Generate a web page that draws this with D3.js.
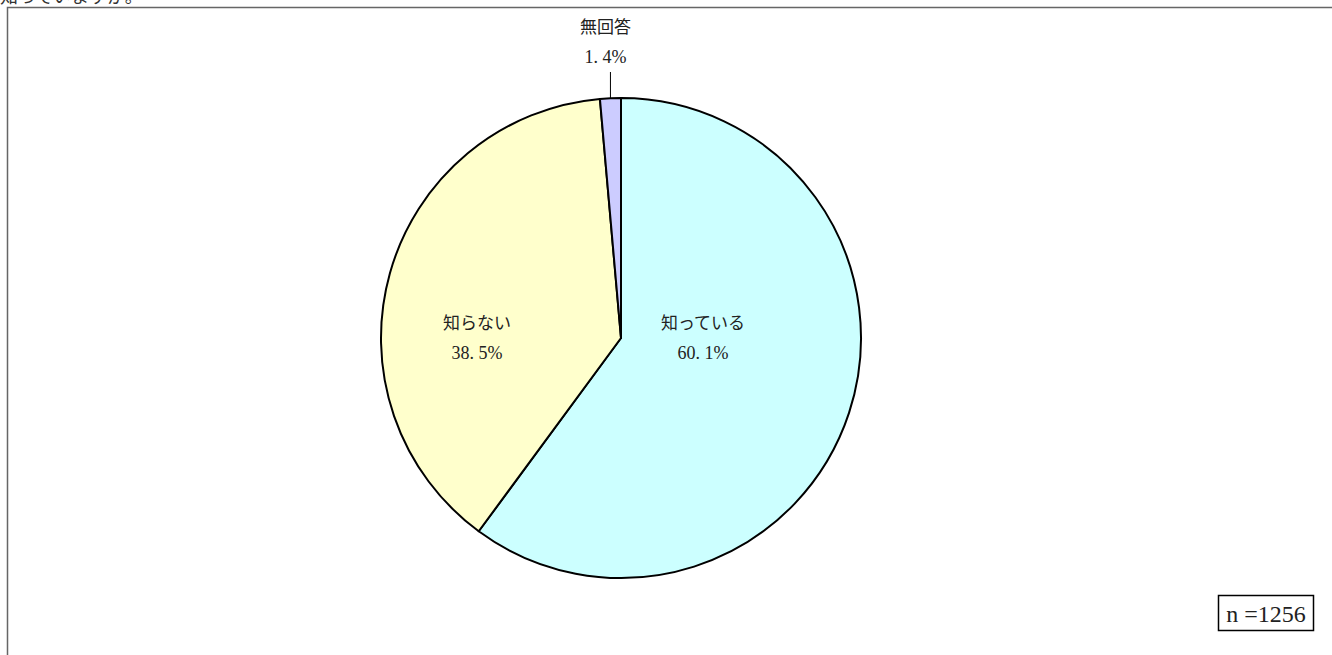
<!DOCTYPE html>
<html><head><meta charset="utf-8">
<script src="https://cdn.jsdelivr.net/npm/d3@7"></script>
<style>body{margin:0;background:#fff}svg{display:block}</style>
</head><body>
<svg id="c" width="1332" height="655"></svg>
<script>
const categories = ["知っている", "知らない", "無回答"];
const values = [60.1, 38.5, 1.4];
const colors = ["#CCFFFF", "#FFFFCC", "#CCCCFF"];
const title = "知っていますか。";
const nLabel = "n =1256";

const svg = d3.select("#c");
const font = "'Noto Sans CJK JP', sans-serif";
const cx = 621, cy = 338, R = 240;

// partial title at top (cut off, as in the reference)
svg.append("text").attr("x", 0).attr("y", 3).attr("font-family", font)
  .attr("font-size", 18).attr("fill", "#333").text(title);

// frame
svg.append("path").attr("d", "M7.5,655 V7.5 H1332").attr("fill", "none")
  .attr("stroke", "#666").attr("stroke-width", 1.5);

const data = categories.map((c, i) => ({ c, v: values[i], col: colors[i] }));
const pie = d3.pie().value(d => d.v).sort(null);
const arcs = pie(data);
const arc = d3.arc().innerRadius(0).outerRadius(R);
const g = svg.append("g").attr("transform", `translate(${cx},${cy})`);
g.selectAll("path").data(arcs).join("path")
  .attr("d", arc).attr("fill", d => d.data.col)
  .attr("stroke", "#000").attr("stroke-width", 2).attr("stroke-linejoin", "round");

// labels
arcs.forEach((a, i) => {
  let x, y;
  if (i < 2) {
    x = i === 0 ? 82 : -144;
    y = -15;
  } else {
    const mid = (a.startAngle + a.endAngle) / 2;
    x = Math.sin(mid) * R - 5; y = -R - 71;
    const lx = Math.sin(mid) * R;
    g.append("line").attr("x1", lx).attr("x2", lx).attr("y1", -R - 26).attr("y2", -R)
      .attr("stroke", "#000").attr("stroke-width", 1);
  }
  const t = g.append("text").attr("text-anchor", "middle").attr("font-family", font)
    .attr("font-size", 17).attr("fill", "#222");
  t.append("tspan").attr("x", x).attr("y", y + 6).text(a.data.c);
  t.append("tspan").attr("x", x).attr("y", y + 36).attr("font-size", 18)
    .attr("font-family", "'Liberation Serif', serif")
    .text(d3.format(".1f")(a.data.v).replace(".", ". ") + "%");
});

// n box
svg.append("rect").attr("x", 1218.5).attr("y", 595.5).attr("width", 95).attr("height", 35)
  .attr("fill", "#fff").attr("stroke", "#000").attr("stroke-width", 1.5);
svg.append("text").attr("x", 1266).attr("y", 622).attr("text-anchor", "middle")
  .attr("font-family", "'Liberation Serif', serif").attr("font-size", 24).attr("fill", "#222").text(nLabel);
</script>
</body></html>
